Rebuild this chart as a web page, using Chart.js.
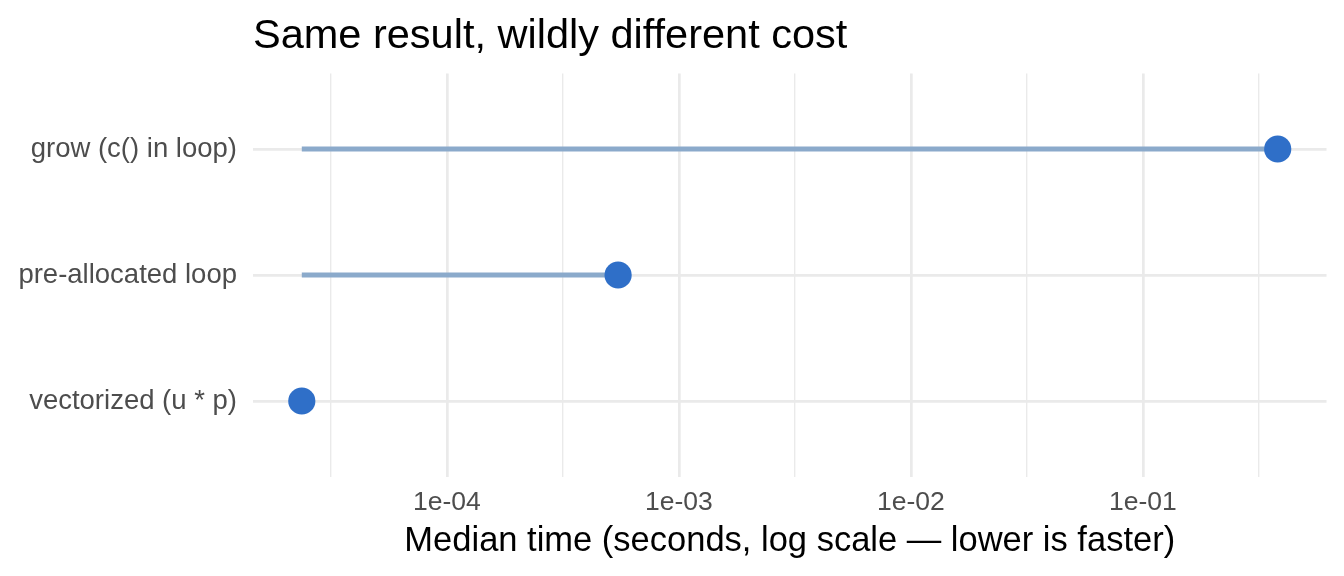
<!DOCTYPE html>
<html>
<head>
<meta charset="utf-8">
<script src="https://cdn.jsdelivr.net/npm/chart.js@4/dist/chart.umd.min.js"></script>
<style>
  html, body { margin: 0; padding: 0; background: #ffffff; }
  #wrap { width: 1344px; height: 576px; }
</style>
</head>
<body>
<div id="wrap"><canvas id="c" width="1344" height="576"></canvas></div>
<script>
// ---- data ----
const chartTitle = "Same result, wildly different cost";
const xAxisTitle = "Median time (seconds, log scale \u2014 lower is faster)";
const categories = ["grow (c() in loop)", "pre-allocated loop", "vectorized (u * p)"];
const medianSeconds = [0.381, 5.47e-4, 2.37e-5];
const majorTicks = [1e-4, 1e-3, 1e-2, 1e-1];
const majorTickLabels = ["1e-04", "1e-03", "1e-02", "1e-01"];
const minorTicks = [3.162e-5, 3.162e-4, 3.162e-3, 3.162e-2, 3.162e-1];

// ---- styling ----
const FONT = '"Liberation Sans", Arial, Helvetica, sans-serif';
const DOT = "#2F6FC8";
const SEG = "#8BAACB";
const GRID = "#EAEAEA";

// category position: first category at top
const yPos = i => categories.length - i;

const lo = Math.log10(Math.min(...medianSeconds));
const hi = Math.log10(Math.max(...medianSeconds));
const pad = 0.05 * (hi - lo);
const xMin = Math.pow(10, lo - pad);
const xMax = Math.pow(10, hi + pad);
const baseline = Math.min(...medianSeconds);

const dotData = medianSeconds.map((v, i) => ({ x: v, y: yPos(i) }));
const segmentSets = medianSeconds.map((v, i) => ({
  type: "line",
  data: [{ x: baseline, y: yPos(i) }, { x: v, y: yPos(i) }],
  borderColor: SEG,
  borderWidth: 5.2,
  pointRadius: 0,
  borderCapStyle: "butt",
  fill: false,
  order: 2
}));

const isMajor = v => majorTicks.some(m => Math.abs(Math.log10(v) - Math.log10(m)) < 1e-6);

const titlePlugin = {
  id: "leftTitle",
  afterDraw(chart) {
    const ctx = chart.ctx;
    ctx.save();
    ctx.font = "41.5px " + FONT;
    ctx.fillStyle = "#000000";
    ctx.textAlign = "left";
    ctx.textBaseline = "alphabetic";
    ctx.fillText(chartTitle, chart.chartArea.left, 48);
    ctx.restore();
  }
};

new Chart(document.getElementById("c"), {
  type: "scatter",
  data: {
    datasets: [
      {
        type: "scatter",
        data: dotData,
        backgroundColor: DOT,
        borderWidth: 0,
        pointRadius: 13.6,
        pointHoverRadius: 13.6,
        order: 1
      },
      ...segmentSets
    ]
  },
  options: {
    responsive: false,
    animation: false,
    devicePixelRatio: 1,
    layout: { padding: { left: 0, right: 17.5, top: 73.4, bottom: 0 } },
    plugins: { legend: { display: false }, tooltip: { enabled: false }, title: { display: false } },
    scales: {
      x: {
        type: "logarithmic",
        position: "bottom",
        min: xMin,
        max: xMax,
        afterBuildTicks(scale) {
          scale.ticks = [...majorTicks, ...minorTicks].sort((a, b) => a - b).map(v => ({ value: v, major: isMajor(v) }));
        },
        afterFit(scale) { scale.height = 99.4; },
        border: { display: false },
        grid: {
          color: GRID,
          lineWidth: ctx => (ctx.tick && isMajor(ctx.tick.value)) ? 2.7 : 1.4,
          drawTicks: false
        },
        ticks: {
          autoSkip: false,
          maxRotation: 0,
          padding: 10,
          color: "#4D4D4D",
          font: { family: FONT, size: 26.5 },
          callback: function (v) {
            const k = majorTicks.findIndex(m => Math.abs(Math.log10(v) - Math.log10(m)) < 1e-6);
            return k >= 0 ? majorTickLabels[k] : "";
          }
        },
        title: {
          display: true,
          text: xAxisTitle,
          color: "#000000",
          font: { family: FONT, size: 34.5 },
          padding: { top: 0, bottom: 14 }
        }
      },
      y: {
        type: "linear",
        position: "left",
        min: 0.4,
        max: categories.length + 0.6,
        afterBuildTicks(scale) {
          scale.ticks = categories.map((c, i) => ({ value: yPos(i) }));
        },
        afterFit(scale) { scale.width = 253; },
        border: { display: false },
        grid: { color: GRID, lineWidth: 2.7, drawTicks: false },
        ticks: {
          autoSkip: false,
          padding: 16,
          color: "#4D4D4D",
          font: { family: FONT, size: 27.5 },
          callback: v => categories[categories.length - v]
        }
      }
    }
  },
  plugins: [titlePlugin]
});
</script>
</body>
</html>
